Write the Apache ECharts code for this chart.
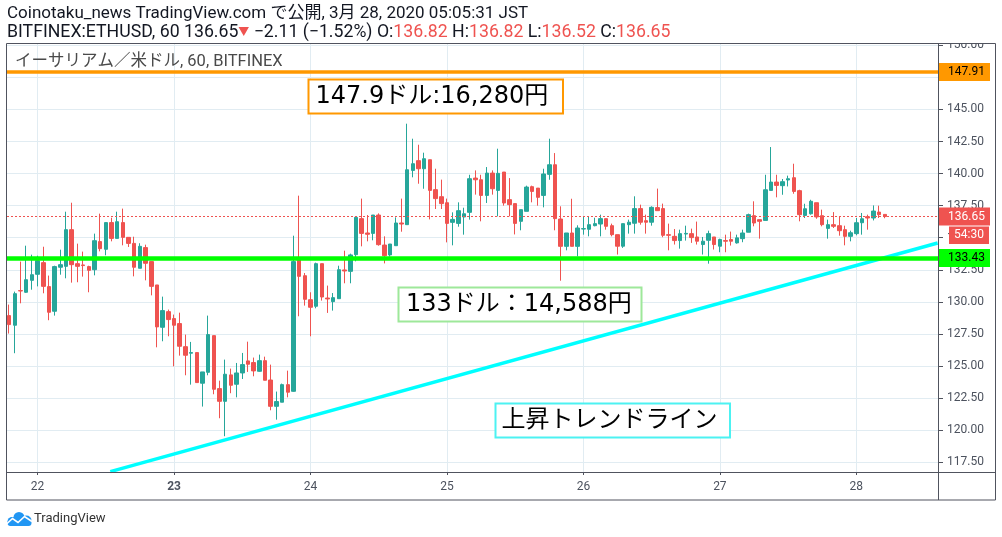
<!DOCTYPE html>
<html><head><meta charset="utf-8">
<script src="https://cdn.jsdelivr.net/npm/echarts@6/dist/echarts.min.js"></script>
<style>html,body{margin:0;padding:0;background:#fff}#c{width:1002px;height:537px}</style>
</head><body><div id="c"></div>
<script>
// hourly candles, x = hours since Mar 21 00:00 JST
const startHour = 19;
const opens = [128.93,128.18,130.88,130.75,131.68,132.15,133.06,131.19,129.27,132.70,
132.77,135.63,132.98,132.88,132.75,132.51,134.70,134.10,136.18,134.95,
136.18,135.03,134.56,132.62,134.23,133.14,131.32,128.02,129.24,128.70,
128.31,126.51,126.00,126.05,123.66,124.51,127.37,123.24,122.25,124.31,
123.58,124.46,125.40,125.27,124.59,125.42,123.91,121.86,122.18,123.55,
123.03,133.29,132.04,130.17,129.66,132.98,130.30,130.02,130.25,132.49,
132.38,133.68,136.49,135.37,135.34,136.77,134.43,133.66,134.38,136.15,
136.02,140.25,141.01,140.38,141.08,138.75,138.20,137.73,136.20,136.12,
136.62,136.98,139.65,139.52,138.30,140.04,138.69,140.12,137.97,137.66,
136.28,137.06,138.98,138.87,138.30,139.94,140.69,136.46,134.33,135.37,
134.33,135.68,135.66,135.94,136.07,136.49,135.94,135.24,134.34,136.02,
136.13,137.27,136.33,136.21,137.35,137.27,135.24,135.11,134.78,135.29,
135.32,135.06,134.47,134.80,135.06,134.34,134.78,134.86,134.60,134.93,
135.43,136.72,136.41,136.35,138.69,139.34,139.06,139.50,139.68,138.67,
136.74,136.87,137.73,136.72,135.73,136.02,135.94,135.63,135.11,135.32,
136.17,136.64,136.54,137.00,136.82];
const closes = [128.23,130.64,130.85,131.73,132.12,133.21,131.21,129.19,132.75,132.90,
135.63,132.90,132.77,132.83,132.46,134.77,134.15,136.18,134.95,136.25,
135.03,134.56,132.70,134.33,133.01,131.21,128.05,129.32,128.62,128.18,
126.54,125.84,126.05,123.71,124.54,127.45,123.19,122.25,124.36,123.50,
124.46,125.11,125.14,124.62,125.42,123.89,121.86,122.23,123.55,122.96,
133.14,131.99,130.20,129.58,132.98,130.38,130.23,130.33,132.51,132.41,
133.66,136.59,135.34,135.27,136.77,134.46,133.60,134.51,136.15,136.07,
140.30,140.77,140.38,141.16,138.69,138.05,137.66,136.12,136.43,137.11,
136.87,139.60,139.52,138.30,140.04,138.82,140.02,137.71,137.58,136.12,
137.19,138.95,138.61,138.15,139.97,140.69,136.49,134.33,135.37,134.33,
135.76,135.71,136.02,136.10,136.49,135.89,135.24,134.34,136.10,136.21,
137.27,136.21,136.21,137.37,137.11,135.19,135.19,134.78,135.32,135.34,
135.01,134.73,134.73,135.32,134.47,134.86,134.73,134.73,134.99,135.37,
136.80,136.15,136.28,138.74,139.34,139.08,139.37,139.60,138.61,136.80,
137.26,137.84,136.62,136.02,136.02,135.89,135.55,135.11,135.39,136.17,
136.48,136.54,137.08,136.80,136.65];
const lows = [127.53,126.00,129.89,130.70,130.95,131.21,130.67,128.57,128.93,132.12,
131.84,131.50,131.53,131.97,130.75,132.07,133.94,133.63,134.72,134.95,
134.41,134.28,131.99,132.62,131.68,130.51,126.46,126.93,127.32,124.98,
125.81,124.28,123.55,123.71,121.84,124.28,122.80,120.93,119.53,122.88,
122.56,123.99,124.54,124.20,124.55,123.89,121.55,120.82,122.18,122.56,
123.00,128.88,129.71,127.32,129.50,130.10,129.14,129.32,130.25,131.45,
131.45,133.16,134.33,134.72,134.80,134.38,133.00,133.53,134.38,135.47,
136.02,139.71,139.21,138.82,136.43,137.24,137.24,134.64,134.41,135.86,
135.24,136.41,138.36,136.28,137.71,138.36,136.67,137.50,136.67,135.26,
135.58,137.06,137.76,137.50,137.37,139.52,135.58,131.65,134.02,134.33,
133.55,135.24,135.11,135.89,135.11,135.63,135.11,133.69,134.21,135.32,
135.32,136.02,135.32,135.94,137.11,135.04,134.02,134.47,134.15,134.78,
134.60,134.47,133.69,132.98,134.08,133.87,133.87,134.39,134.54,134.65,
135.43,135.89,134.93,136.35,138.69,138.15,138.35,139.00,138.43,136.28,
136.54,136.80,136.48,135.89,134.93,135.76,135.16,134.41,134.72,135.19,
135.24,135.63,136.35,136.54,136.52];
const highs = [129.79,130.80,133.14,134.38,133.68,133.60,134.30,132.05,132.82,134.07,
137.03,137.73,134.54,133.92,132.82,135.32,136.88,136.20,136.56,137.03,
137.27,135.03,135.08,134.57,134.46,133.14,131.32,130.41,129.40,129.01,
129.16,127.45,126.88,126.05,124.54,128.93,127.37,123.86,125.50,124.80,
125.24,126.02,126.90,125.66,125.89,125.73,125.11,123.01,123.63,124.64,
135.16,138.28,132.25,130.75,133.06,132.98,131.27,130.69,132.82,133.99,
133.76,136.59,138.05,136.77,136.77,136.90,135.11,134.51,136.59,138.05,
143.89,142.72,142.25,141.63,141.08,140.38,139.53,138.05,136.98,137.76,
137.34,139.91,140.25,139.91,140.51,140.25,141.94,140.12,139.65,137.66,
137.19,139.06,139.06,138.87,140.38,142.72,141.60,137.45,135.37,138.04,
135.97,136.62,136.62,136.56,136.80,136.49,136.10,135.24,136.10,136.41,
138.23,137.58,136.80,137.45,138.83,137.66,136.10,135.68,135.63,135.94,
135.71,136.26,135.06,135.55,135.06,134.93,135.24,135.48,135.24,135.63,
136.88,137.84,136.41,139.91,142.07,139.91,139.58,139.84,140.77,138.74,
137.65,137.96,137.73,137.19,136.41,137.00,136.64,135.94,135.55,136.54,
136.93,136.80,137.52,137.50,136.82];

const dayTicks = [24, 48, 72, 96, 120, 144, 168];
const dayLabels = ['22', '23', '24', '25', '26', '27', '28'];
const weekStartLabel = '23';
const priceTicks = [117.5, 120, 122.5, 125, 127.5, 130, 132.5, 135, 137.5, 140, 142.5, 145, 147.5, 150];
const resistanceLevel = 147.91;
const supportLevel = 133.43;
const lastPrice = 136.65;
const countdownText = '54:30';
const trendX = [36.79, 182.3];
const trendY = [116.77, 134.59];

const headerLine1 = 'Coinotaku_news TradingView.com で公開, 3月 28, 2020 05:05:31 JST';
const headerLine2 = 'BITFINEX:ETHUSD, 60 136.65{t|▼} −2.11 (−1.52%) O:{r|136.82} H:{r|136.82} L:{r|136.52} C:{r|136.65}';
const legendText = 'イーサリアム／米ドル, 60, BITFINEX';
const note1 = '147.9ドル:16,280円';
const note2 = '133ドル：14,588円';
const note3 = '上昇トレンドライン';

const UP = '#26a69a', DOWN = '#ef5350', AXIS_TXT = '#4c525e', FRAME = '#50535e', GRID = '#e1ecf2';
const LATIN = 'Roboto, "Noto Sans CJK JP", sans-serif';
const NOTE_FONT = '"DejaVu Sans", "Noto Sans CJK JP", sans-serif';

const candles = opens.map((o, i) => [startHour + i, o, closes[i], lows[i], highs[i]]);
const trendData = trendX.map((x, i) => [x, trendY[i]]);

const chart = echarts.init(document.getElementById('c'));
function axisBox(bg, fg) {
  return { show: true, position: 'end', distance: 0, backgroundColor: bg, color: fg,
    fontSize: 12, fontFamily: LATIN, lineHeight: 12, padding: [3, 4, 3, 9], width: 38,
    formatter: p => p.value.toFixed(2) };
}
chart.setOption({
  animation: false,
  backgroundColor: '#fff',
  grid: { left: 7, right: 63, top: 43, bottom: 65 },
  xAxis: {
    type: 'value', min: 18.62, max: 182.54,
    axisLine: { show: false },
    axisTick: { show: true, customValues: dayTicks, length: 3, lineStyle: { color: FRAME } },
    axisLabel: { customValues: dayTicks, margin: 9, color: AXIS_TXT, fontSize: 12, fontFamily: LATIN,
      formatter: v => { const d = dayLabels[dayTicks.indexOf(v)]; return d === weekStartLabel ? '{b|' + d + '}' : d; },
      rich: { b: { fontWeight: 'bold', color: AXIS_TXT, fontSize: 12, fontFamily: LATIN } } },
    splitLine: { show: true, lineStyle: { color: GRID, width: 1 } }
  },
  yAxis: {
    type: 'value', position: 'right', min: 116.74, max: 150.18, scale: true,
    axisLine: { show: false },
    axisTick: { show: true, customValues: priceTicks, length: 4, lineStyle: { color: FRAME } },
    axisLabel: { customValues: priceTicks, margin: 8, color: AXIS_TXT, fontSize: 12, fontFamily: LATIN,
      formatter: v => v.toFixed(2) },
    splitLine: { show: true, lineStyle: { color: GRID, width: 1 } }
  },
  series: [
    {
      type: 'candlestick', data: candles, barWidth: 4, clip: true,
      itemStyle: { color: UP, color0: DOWN, borderColor: UP, borderColor0: DOWN, borderWidth: 1 },
      markLine: {
        silent: true, symbol: ['none', 'none'], animation: false,
        data: [
          { yAxis: lastPrice, lineStyle: { color: DOWN, width: 1, type: [2, 2] }, label: axisBox(DOWN, '#fff') },
          { yAxis: resistanceLevel, lineStyle: { color: '#ff9800', width: 3.5, type: 'solid' }, label: axisBox('#ff9800', '#000') },
          { yAxis: supportLevel, lineStyle: { color: '#00ff00', width: 4.5, type: 'solid' }, label: axisBox('#00ff00', '#000') }
        ]
      }
    },
    {
      type: 'line', data: trendData, symbol: 'none', clip: true, z: 3,
      lineStyle: { color: '#00ffff', width: 3.5 }
    }
  ]
});

const py = chart.convertToPixel({ yAxisIndex: 0 }, lastPrice);
function noteBox(x, y, w, h, stroke, text, pad) {
  return [
    { type: 'rect', z: 50, shape: { x: x, y: y, width: w, height: h }, style: { fill: '#fff', stroke: stroke, lineWidth: 2 } },
    { type: 'text', z: 51, x: x + pad, y: y + h / 2, style: { text: text, font: '24px ' + NOTE_FONT, fill: '#000', verticalAlign: 'middle' } }
  ];
}
const BLUE = '#2196f3';
chart.setOption({
  graphic: [
    { type: 'text', x: 7, y: 14, style: { text: headerLine1, font: '17px ' + LATIN, fill: '#131722', verticalAlign: 'middle' } },
    { type: 'text', x: 7, y: 33, style: { text: headerLine2, font: '17.7px ' + LATIN, fill: '#131722', verticalAlign: 'middle',
        rich: { r: { fill: '#ef5350', font: '17.7px ' + LATIN }, t: { fill: '#ef5350', font: '11px ' + LATIN } } } },
    { type: 'text', z: 40, x: 15, y: 62, style: { text: legendText, font: '16.5px ' + LATIN, fill: '#4a4a4a', verticalAlign: 'middle' } },
    ...noteBox(308.5, 79.5, 254.5, 34, '#ff9800', note1, 7),
    ...noteBox(398.5, 287.5, 243, 34, '#9ee89a', note2, 7.5),
    ...noteBox(495.5, 403.5, 234.5, 34, '#4cf2f2', note3, 6),
    { type: 'rect', z: 60, shape: { x: 949, y: py + 9.8, width: 40, height: 17.6 }, style: { fill: DOWN } },
    { type: 'text', z: 61, x: 969, y: py + 18.6, style: { text: countdownText, font: '12px ' + LATIN, fill: '#fff', align: 'center', verticalAlign: 'middle' } },
    { type: 'rect', z: 90, shape: { x: 939, y: 30, width: 56, height: 13 }, style: { fill: '#fff' } },
    { type: 'rect', z: 100, shape: { x: 6.5, y: 43.5, width: 989, height: 456.5 }, style: { fill: null, stroke: FRAME, lineWidth: 1 } },
    { type: 'line', z: 100, shape: { x1: 938.5, y1: 43.5, x2: 938.5, y2: 500 }, style: { stroke: FRAME, lineWidth: 1 } },
    { type: 'line', z: 100, shape: { x1: 6.5, y1: 472.5, x2: 995.5, y2: 472.5 }, style: { stroke: FRAME, lineWidth: 1 } },
    { type: 'circle', z: 100, shape: { cx: 12, cy: 521.5, r: 4.5 }, style: { fill: BLUE } },
    { type: 'circle', z: 100, shape: { cx: 19, cy: 517.5, r: 5.5 }, style: { fill: BLUE } },
    { type: 'circle', z: 100, shape: { cx: 26.5, cy: 520.5, r: 5 }, style: { fill: BLUE } },
    { type: 'rect', z: 100, shape: { x: 7.5, y: 520, width: 24, height: 6, r: 3 }, style: { fill: BLUE } },
    { type: 'polyline', z: 101, shape: { points: [[6, 524.5], [12.5, 518.5], [18, 522.5], [24.5, 516.5], [32, 521.5]] }, style: { stroke: '#fff', lineWidth: 1.6, fill: null } },
    { type: 'text', x: 34, y: 519, style: { text: 'TradingView', font: '13px ' + LATIN, fill: '#333', verticalAlign: 'middle' } }
  ]
});
</script></body></html>
